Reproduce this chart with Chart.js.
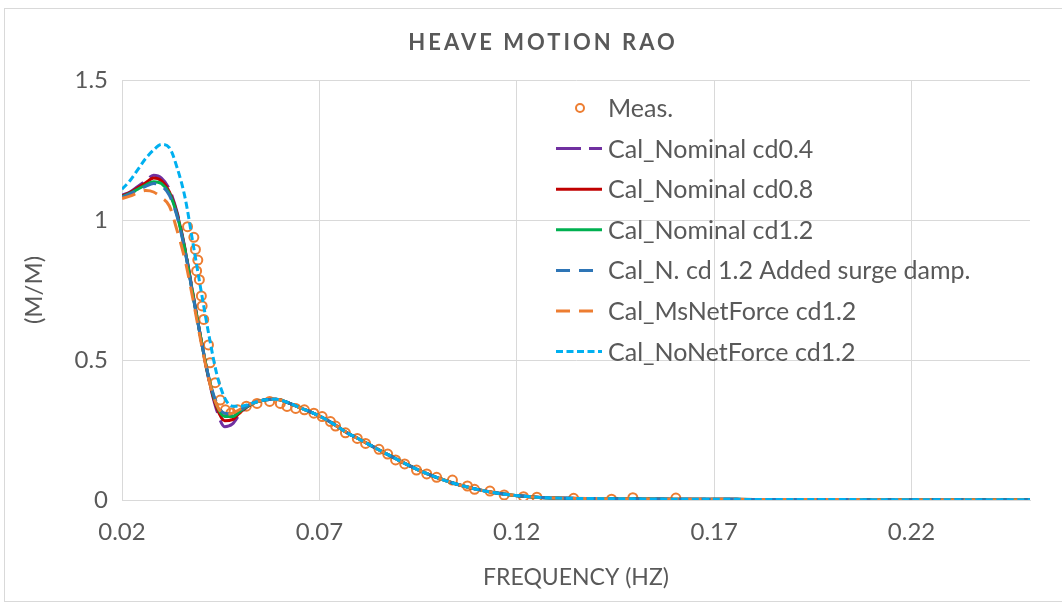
<!DOCTYPE html>
<html>
<head>
<meta charset="utf-8">
<script src="https://cdn.jsdelivr.net/npm/chart.js@4.4.1/dist/chart.umd.min.js"></script>
<style>
  html,body{margin:0;padding:0;background:#fff;overflow:hidden;}
  #wrap{position:relative;width:1062px;height:606px;}
  #frame{position:absolute;left:4px;top:8px;width:1070px;height:594px;border:1px solid #D9D9D9;box-sizing:border-box;pointer-events:none;}
  canvas{position:absolute;left:0;top:0;}
</style>
</head>
<body>
<div id="wrap">
<canvas id="c" width="1062" height="606"></canvas>
<div id="frame"></div>
</div>
<script>
// ---- data ----
const xTicks = [0.02, 0.07, 0.12, 0.17, 0.22];
const yTicks = [0, 0.5, 1, 1.5];

const measFreq = [0.0366,0.0382,0.0386,0.0392,0.0389,0.0396,0.0401,0.0403,0.0407,0.0419,0.0423,0.0436,0.0449,0.0462,0.0476,0.0493,0.0515,0.0542,0.0574,0.0601,0.0618,0.0640,0.0662,0.0686,0.0707,0.0728,0.0741,0.0766,0.0796,0.0817,0.0851,0.0873,0.0893,0.0916,0.0946,0.0972,0.0997,0.1037,0.1075,0.1093,0.1132,0.1168,0.1217,0.1251,0.1344,0.1440,0.1494,0.1603];
const measRAO  = [0.976,0.938,0.895,0.857,0.818,0.787,0.729,0.693,0.645,0.554,0.490,0.419,0.357,0.322,0.311,0.322,0.335,0.345,0.352,0.345,0.334,0.327,0.322,0.310,0.298,0.280,0.264,0.240,0.220,0.202,0.181,0.164,0.143,0.129,0.107,0.093,0.081,0.071,0.050,0.038,0.032,0.018,0.012,0.010,0.006,0.003,0.008,0.007];

const calFreq = [0.020,0.022,0.024,0.026,0.028,0.030,0.032,0.034,0.036,0.038,0.040,0.042,0.044,0.046,0.048,0.050,0.053,0.056,0.059,0.062,0.065,0.068,0.071,0.074,0.077,0.080,0.083,0.086,0.089,0.092,0.095,0.098,0.101,0.104,0.107,0.110,0.114,0.118,0.122,0.126,0.130,0.140,0.150,0.160,0.170,0.180,0.190,0.200,0.210,0.220,0.230,0.240,0.250];

const nomCd04 = [1.089,1.100,1.120,1.140,1.160,1.150,1.110,1.025,0.895,0.735,0.575,0.430,0.320,0.262,0.272,0.310,0.345,0.357,0.360,0.348,0.330,0.313,0.293,0.268,0.240,0.218,0.195,0.172,0.150,0.128,0.108,0.090,0.074,0.060,0.048,0.038,0.027,0.019,0.013,0.009,0.007,0.005,0.004,0.003,0.003,0.002,0.002,0.002,0.001,0.001,0.001,0.001,0.001];
const nomCd08 = [1.086,1.098,1.115,1.133,1.150,1.140,1.100,1.020,0.892,0.732,0.575,0.432,0.330,0.283,0.287,0.315,0.344,0.357,0.360,0.348,0.330,0.313,0.293,0.268,0.240,0.218,0.195,0.172,0.150,0.128,0.108,0.090,0.074,0.060,0.048,0.038,0.027,0.019,0.013,0.009,0.007,0.005,0.004,0.003,0.003,0.002,0.002,0.002,0.001,0.001,0.001,0.001,0.001];
const nomCd12 = [1.083,1.095,1.110,1.125,1.137,1.130,1.095,1.015,0.890,0.730,0.575,0.435,0.338,0.298,0.298,0.318,0.344,0.357,0.360,0.348,0.330,0.313,0.293,0.268,0.240,0.218,0.195,0.172,0.150,0.128,0.108,0.090,0.074,0.060,0.048,0.038,0.027,0.019,0.013,0.009,0.007,0.005,0.004,0.003,0.003,0.002,0.002,0.002,0.001,0.001,0.001,0.001,0.001];
const surgeDamp = [1.082,1.093,1.107,1.120,1.130,1.122,1.088,1.010,0.885,0.728,0.575,0.437,0.345,0.310,0.308,0.322,0.345,0.357,0.360,0.348,0.330,0.313,0.293,0.268,0.240,0.218,0.195,0.172,0.150,0.128,0.108,0.090,0.074,0.060,0.048,0.038,0.027,0.019,0.013,0.009,0.007,0.005,0.004,0.003,0.003,0.002,0.002,0.002,0.001,0.001,0.001,0.001,0.001];
const msNetForce = [1.077,1.085,1.097,1.105,1.100,1.080,1.050,0.960,0.855,0.715,0.565,0.430,0.340,0.305,0.310,0.325,0.345,0.357,0.360,0.348,0.330,0.313,0.293,0.268,0.240,0.218,0.195,0.172,0.150,0.128,0.108,0.090,0.074,0.060,0.048,0.038,0.027,0.019,0.013,0.009,0.007,0.005,0.004,0.003,0.003,0.002,0.002,0.002,0.001,0.001,0.001,0.001,0.001];
const noNetForce = [1.110,1.140,1.180,1.220,1.250,1.270,1.258,1.185,1.078,0.915,0.750,0.590,0.450,0.365,0.335,0.335,0.346,0.357,0.360,0.348,0.330,0.313,0.293,0.268,0.240,0.218,0.195,0.172,0.150,0.128,0.108,0.090,0.074,0.060,0.048,0.038,0.027,0.019,0.013,0.009,0.007,0.005,0.004,0.003,0.003,0.002,0.002,0.002,0.001,0.001,0.001,0.001,0.001];

const seriesNames = ["Meas.","Cal_Nominal cd0.4","Cal_Nominal cd0.8","Cal_Nominal cd1.2","Cal_N. cd 1.2 Added surge damp.","Cal_MsNetForce cd1.2","Cal_NoNetForce cd1.2"];
const seriesColors = ["#ED7D31","#7030A0","#C00000","#00B050","#2E75B6","#ED7D31","#00B0F0"];
const seriesDash = [null,[25,8],[],[],[14,9],[14,9],[7,3.5]];

// ---- build ----
const FONT = "Lato, 'Open Sans', sans-serif";
const TXT = "#595959";
const pts = (xs, ys) => xs.map((x, i) => ({x: x, y: ys[i]}));
const calSeries = [nomCd04, nomCd08, nomCd12, surgeDamp, msNetForce, noNetForce];

const datasets = [{
  label: seriesNames[0],
  data: pts(measFreq, measRAO),
  showLine: false,
  pointStyle: 'circle',
  pointRadius: 4.5,
  pointBorderWidth: 2,
  pointBackgroundColor: 'rgba(0,0,0,0)',
  pointBorderColor: seriesColors[0],
  borderColor: seriesColors[0],
  order: 7
}];
calSeries.forEach((s, i) => {
  datasets.push({
    label: seriesNames[i + 1],
    data: pts(calFreq, s),
    showLine: true,
    borderColor: seriesColors[i + 1],
    borderWidth: 3,
    borderDash: seriesDash[i + 1],
    pointRadius: 0,
    cubicInterpolationMode: 'monotone',
    fill: false,
    order: 6 - i
  });
});

const titlePlugin = {
  id: 'titleLegend',
  afterDraw(chart) {
    const ctx = chart.ctx;
    ctx.save();
    // title
    ctx.fillStyle = TXT;
    ctx.font = "bold 22px " + FONT;
    ctx.textAlign = 'center';
    ctx.textBaseline = 'middle';
    try { ctx.letterSpacing = '3px'; } catch (e) {}
    ctx.fillText("HEAVE MOTION RAO", 543, 43);
    try { ctx.letterSpacing = '0px'; } catch (e) {}
    // legend
    const x0 = 556, x1 = 602, tx = 608, y0 = 108, dy = 40.6;
    ctx.font = "25px " + FONT;
    ctx.textAlign = 'left';
    seriesNames.forEach((name, i) => {
      const y = y0 + i * dy;
      if (i === 0) {
        ctx.beginPath();
        ctx.arc(580, y, 4, 0, Math.PI * 2);
        ctx.lineWidth = 2;
        ctx.strokeStyle = seriesColors[0];
        ctx.setLineDash([]);
        ctx.stroke();
      } else {
        ctx.beginPath();
        ctx.moveTo(x0, y);
        ctx.lineTo(x1, y);
        ctx.lineWidth = 3;
        ctx.strokeStyle = seriesColors[i];
        ctx.setLineDash(seriesDash[i]);
        ctx.stroke();
        ctx.setLineDash([]);
      }
      ctx.fillStyle = TXT;
      ctx.fillText(name, tx, y + 1);
    });
    ctx.restore();
  }
};

new Chart(document.getElementById('c'), {
  type: 'scatter',
  data: {datasets},
  plugins: [titlePlugin],
  options: {
    responsive: false,
    animation: false,
    devicePixelRatio: 1,
    layout: {padding: {top: 80, right: 32, left: 0, bottom: 0}},
    plugins: {legend: {display: false}, tooltip: {enabled: false}, title: {display: false}},
    scales: {
      x: {
        type: 'linear', min: 0.02, max: 0.25,
        afterBuildTicks: s => { s.ticks = xTicks.map(v => ({value: v})); },
        afterFit: s => { s.height = 106; },
        ticks: {callback: v => Number(v).toFixed(2), font: {family: FONT, size: 24}, color: TXT, padding: 18, maxRotation: 0, autoSkip: false},
        grid: {color: '#D9D9D9', lineWidth: 1, drawTicks: false},
        border: {color: '#D9D9D9'},
        title: {display: true, text: 'FREQUENCY (HZ)', font: {family: FONT, size: 23}, color: TXT, padding: {top: 0, bottom: 15}}
      },
      y: {
        type: 'linear', min: 0, max: 1.5,
        afterBuildTicks: s => { s.ticks = yTicks.map(v => ({value: v})); },
        afterFit: s => { s.width = 122; },
        ticks: {callback: v => String(Number(v)), font: {family: FONT, size: 24}, color: TXT, padding: 14},
        grid: {color: '#D9D9D9', lineWidth: 1, drawTicks: false},
        border: {color: '#D9D9D9'},
        title: {display: true, text: '(M/M)', font: {family: FONT, size: 24}, color: TXT, padding: {top: 20, bottom: 0}}
      }
    }
  }
});
</script>
</body>
</html>
